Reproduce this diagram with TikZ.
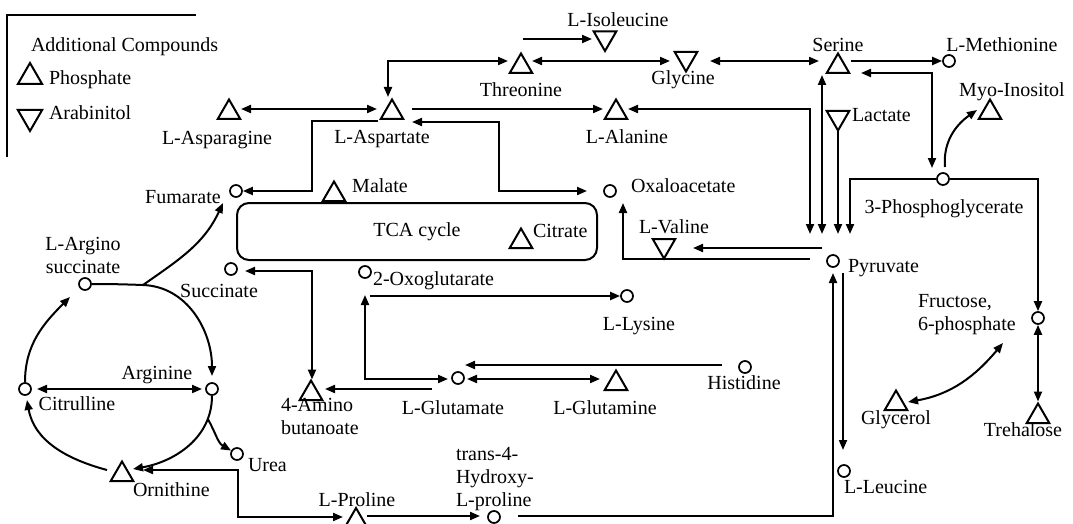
\documentclass[tikz,border=0pt]{standalone}
\usepackage{fontspec}
\setmainfont{Liberation Serif}
\usetikzlibrary{arrows.meta, shapes.geometric, calc}

\tikzset{
  phos/.style={regular polygon, regular polygon sides=3, draw, minimum size=26pt, inner sep=0pt},
  arab/.style={phos, shape border rotate=180},
  met/.style={circle, draw, line width=1.7pt, minimum size=12pt, inner sep=0pt},
  lbl/.style={font=\fontsize{20}{23}\selectfont, inner sep=0pt},
}

\begin{document}
\begin{tikzpicture}[x=1pt, y=1pt, line width=2pt, >={Triangle[length=10pt,width=8pt]}]
\useasboundingbox (0,0) rectangle (1073,-524);

% legend
\draw (196,-15) -- (7,-15) -- (7,-157);
\node[lbl, anchor=base west] (addl) at (30,-52) {Additional Compounds};
\node[phos, minimum size=28pt] (lgp) at (30,-77) {};
\node[lbl, anchor=base west] (lgpl) at (48,-85) {Phosphate};
\node[arab, minimum size=28pt] (lga) at (30,-117) {};
\node[lbl, anchor=base west] (lgal) at (48,-120) {Arabinitol};

% TCA cycle
\node[lbl, draw, rounded corners=12pt, minimum width=360pt, minimum height=57pt] (tca) at (417,-231.5) {TCA cycle};

% phosphates
\node[phos] (aspn) at (229,-112.5) {};
\node[phos] (asp)  at (392,-112.5) {};
\node[phos] (ala)  at (616,-112.5) {};
\node[phos] (thr)  at (521,-66.5) {};
\node[phos] (ser)  at (838,-66.5) {};
\node[phos] (myo)  at (990,-112.5) {};
\node[phos] (mal)  at (334,-194.5) {};
\node[phos] (citr) at (521,-241.5) {};
\node[phos] (gabu) at (311,-393.5) {};
\node[phos] (gln)  at (616,-383.5) {};
\node[phos] (orn)  at (122,-474.5) {};
\node[phos] (pro)  at (356,-521) {};
\node[phos] (gly3) at (896,-403.5) {};
\node[phos] (tre)  at (1038,-416.5) {};
% arabinitols
\node[arab] (gly) at (686,-58.5) {};
\node[arab] (ile) at (605,-38) {};
\node[arab] (lac) at (838,-117.5) {};
\node[arab] (val) at (664,-245.5) {};
% metabolites
\node[met] (fum)  at (236,-191) {};
\node[met] (oaa)  at (610,-191) {};
\node[met] (succ) at (231,-269) {};
\node[met] (og)   at (365,-272) {};
\node[met] (lys)  at (627,-296) {};
\node[met] (glu)  at (458,-378) {};
\node[met] (his)  at (745,-367) {};
\node[met] (pyr)  at (833,-261) {};
\node[met] (pg3)  at (943,-179) {};
\node[met] (met)  at (949,-61) {};
\node[met] (f6p)  at (1038,-318) {};
\node[met] (leu)  at (844,-471) {};
\node[met] (hyp)  at (494,-517) {};
\node[met] (urea) at (237,-454) {};
\node[met] (arg)  at (212,-389) {};
\node[met] (citl) at (25,-389) {};
\node[met] (argsucc) at (85,-284) {};

% labels
\node[lbl, anchor=base] (aspnl) at (217,-145) {L-Asparagine};
\node[lbl, anchor=base] (aspl) at (382,-143) {L-Aspartate};
\node[lbl, anchor=base] (alal) at (627,-143) {L-Alanine};
\node[lbl, anchor=base] (thrl) at (521,-97) {Threonine};
\node[lbl, anchor=base] (glyl) at (683,-85) {Glycine};
\node[lbl, anchor=base] (ilel) at (618,-27) {L-Isoleucine};
\node[lbl, anchor=base] (serl) at (838,-52) {Serine};
\node[lbl, anchor=base] (metl) at (1002,-52) {L-Methionine};
\node[lbl, anchor=base] (myol) at (1012,-97) {Myo-Inositol};
\node[lbl, anchor=base west] (lacl) at (851,-122) {Lactate};
\node[lbl, anchor=base] (fuml) at (183,-203) {Fumarate};
\node[lbl, anchor=base] (mall) at (380,-192) {Malate};
\node[lbl, anchor=base west] (oaal) at (630,-192) {Oxaloacetate};
\node[lbl, anchor=base west] (citrl) at (532,-237) {Citrate};
\node[lbl, anchor=base west] (vall) at (638,-233) {L-Valine};
\node[lbl, anchor=base] (pg3l) at (944,-213) {3-Phosphoglycerate};
\node[lbl, anchor=base west] (pyrl) at (847,-272) {Pyruvate};
\node[lbl, anchor=base west, align=left] (f6pl) at (917,-330) {Fructose,\\6-phosphate};
\node[lbl, anchor=base, align=center] (argsuccl) at (83,-273) {L-Argino\\succinate};
\node[lbl, anchor=base] (succl) at (219,-297) {Succinate};
\node[lbl, anchor=base west] (ogl) at (372,-285) {2-Oxoglutarate};
\node[lbl, anchor=base] (lysl) at (639,-330) {L-Lysine};
\node[lbl, anchor=base] (argl) at (157,-379) {Arginine};
\node[lbl, anchor=base] (citll) at (77,-410) {Citrulline};
\node[lbl, anchor=base west, align=left] (gabul) at (280,-434) {4-Amino\\butanoate};
\node[lbl, anchor=base] (glul) at (453,-414) {L-Glutamate};
\node[lbl, anchor=base] (glnl) at (605,-414) {L-Glutamine};
\node[lbl, anchor=base] (hisl) at (744,-389) {Histidine};
\node[lbl, anchor=base west] (ureal) at (247,-471) {Urea};
\node[lbl, anchor=base west] (ornl) at (132,-496) {Ornithine};
\node[lbl, anchor=base] (prol) at (357,-506) {L-Proline};
\node[lbl, anchor=base west, align=left] (hypl) at (455,-506) {trans-4-\\Hydroxy-\\L-proline};
\node[lbl, anchor=base] (gly3l) at (896,-424) {Glycerol};
\node[lbl, anchor=base] (trel) at (1023,-436) {Trehalose};
\node[lbl, anchor=base west] (leul) at (843,-493) {L-Leucine};

% amino acids round aspartate
\draw[<->] ($(aspn)+(12,3.5)$) -- ($(asp)+(-15,3.5)$);
\draw[->] ($(asp)+(-14,-8.5)$) -- ++(-66,0) |- (fum);
\draw[<->] ($(asp)+(20,-9.5)$) -- ++(87,0) |- ($(oaa)+(-23,0)$);
\draw[->] ($(asp)+(20,3.5)$) -- ($(ala)+(-13,3.5)$);
\draw[<->] ($(asp)+(-4,15.5)$) |- ($(thr)+(-13,5.5)$);
\draw[<->] ($(thr)+(11,5.5)$) -- ($(gly)+(-16,-2.5)$);
\draw[<->] ($(gly)+(24,-2.5)$) -- ($(ser)+(-19,5.5)$);
\draw[->] ($(thr)+(2,27.5)$) -- ($(ile)+(-13,-1)$);
\draw[->] ($(ser)+(13,5.5)$) -- (met);

% glycolysis side
\draw[<->] ($(pg3)+(-11,11)$) |- ($(ser)+(23,-6.5)$);
\draw[->] ($(pg3)+(2,12)$) to[out=95,in=-145] ($(myo)+(-13,2.5)$);
\draw[<->] ($(ala)+(12,3.5)$) -| ($(pyr)+(-23,27)$);
\draw[<->] ($(ser)+(-16,-8.5)$) -- ($(pyr)+(-11,27)$);
\draw[->] ($(lac)+(0,-14)$) -- ($(pyr)+(5,27)$);
\draw[->] (pg3) -| ($(pyr)+(17,27)$);
\draw[->] (pg3) -| (f6p);
\draw[<->] (f6p) -- (tre);
\draw[<->] ($(gly3)+(12,1.5)$) to[out=10,in=230] ($(f6p)+(-35,-25)$);
\draw[->] ($(pyr)+(-11,13)$) -- ($(val)+(29,-2.5)$);
\draw[->] ($(pyr)+(-23,2)$) -| ($(oaa)+(13,-12)$);
\draw[->] ($(hyp)+(24,1)$) -| ($(pyr)+(0,-12)$);
\draw[->] ($(pyr)+(10,-12)$) -- ($(leu)+(-1,21)$);

% glutamate family
\draw[<->] ($(succ)+(14,-2)$) -| ($(gabu)+(1,14)$);
\draw[->] ($(glu)+(-26,-11)$) -- ($(gabu)+(14,4.5)$);
\draw[<->] ($(og)+(0,-23)$) |- ($(glu)+(-10,-1)$);
\draw[->] ($(og)+(5,-24)$) -- (lys);
\draw[<->] ($(glu)+(9,-1)$) -- ($(gln)+(-16,4.5)$);
\draw[->] ($(his)+(-23,2)$) -- ($(glu)+(7,13)$);
\draw[->] ($(pro)+(11,5)$) -- ($(hyp)+(-14,1)$);
\draw[<->] ($(orn)+(21,4.5)$) -- ++(95,0) |- ($(pro)+(-13,4)$);

% urea cycle
\coordinate (ucbr) at (143,-285);
\draw[->] (citl) to[out=90,in=225] ($(argsucc)+(-15,-13)$);
\draw[->] (argsucc) to[out=0,in=178] (ucbr) to[out=-2,in=90] ($(arg)+(0,13)$);
\draw[->] (ucbr) to[out=35,in=-115] ($(fum)+(-13,-12)$);
\draw[<->] ($(citl)+(12,0)$) -- ($(arg)+(-10,0)$);
\draw[->] (arg) to[out=-90,in=10] coordinate[pos=0.2] (urbr) ($(orn)+(11,5.5)$);
\draw[->] (urbr) to[out=-60,in=150] (urea);
\draw[->] ($(orn)+(-15,4.5)$) to[out=165,in=-80] ($(citl)+(2,-11)$);
\end{tikzpicture}
\end{document}
